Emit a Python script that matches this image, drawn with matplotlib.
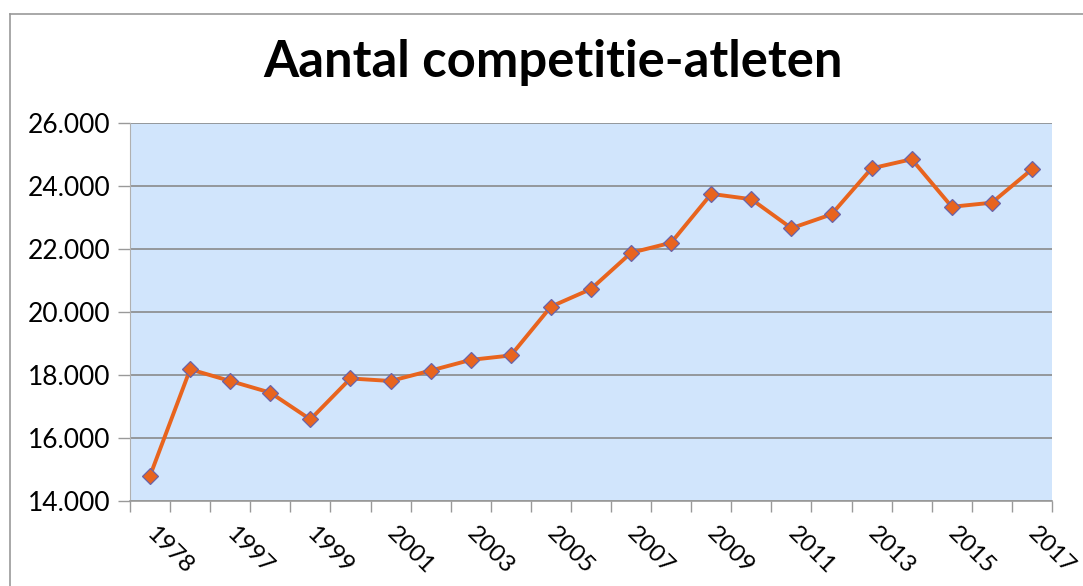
import matplotlib
matplotlib.use("Agg")
import matplotlib.pyplot as plt
import matplotlib.transforms as mtransforms
from matplotlib.lines import Line2D
from matplotlib.ticker import FuncFormatter

plt.rcParams["font.family"] = ["Lato", "DejaVu Sans"]

# data
years = ["1978", "1996", "1997", "1998", "1999", "2000", "2001", "2002", "2003",
         "2004", "2005", "2006", "2007", "2008", "2009", "2010", "2011", "2012",
         "2013", "2014", "2015", "2016", "2017"]
athletes = [14800, 18180, 17810, 17440, 16590, 17890, 17810, 18140, 18480,
            18620, 20170, 20730, 21880, 22200, 23750, 23580, 22660, 23100,
            24560, 24850, 23340, 23470, 24530]
y_ticks = [14000, 16000, 18000, 20000, 22000, 24000, 26000]

fig = plt.figure(figsize=(10.83, 5.86), dpi=100)
ax = fig.add_axes([130 / 1083, 85 / 586, 922 / 1083, 378 / 586])
ax.set_facecolor("#D1E5FC")

x = list(range(len(years)))
ax.plot(x, athletes, color="#E8641E", lw=2.8, marker="D", ms=8,
        markerfacecolor="#E8641E", markeredgecolor="#6A63A8", markeredgewidth=0.9,
        zorder=3)

ax.set_xlim(-0.5, len(years) - 0.5)
ax.set_ylim(y_ticks[0], y_ticks[-1])
ax.set_yticks(y_ticks)
ax.yaxis.set_major_formatter(FuncFormatter(lambda v, p: f"{int(v):,}".replace(",", ".")))
ax.grid(axis="y", color="#8A8A8A", lw=1.2)
ax.set_axisbelow(True)

# category labels every other year, tick marks between categories
ax.set_xticks(x[::2])
ax.set_xticklabels(years[::2], rotation=-45, ha="left", va="top", rotation_mode="anchor")
ax.set_xticks([i - 0.5 for i in range(len(years) + 1)], minor=True)
ax.tick_params(axis="x", which="major", length=0, pad=16, labelsize=17.5)
ax.tick_params(axis="x", which="minor", length=8, color="#999999", width=1)
ax.tick_params(axis="y", length=9, color="#999999", width=1, labelsize=19, pad=5)
shift = mtransforms.ScaledTranslation(7 / 100, 0, fig.dpi_scale_trans)
for lbl in ax.get_xticklabels():
    lbl.set_transform(lbl.get_transform() + shift)

for s in ["top", "right"]:
    ax.spines[s].set_visible(False)
ax.spines["left"].set_color("#B0B0B0")
ax.spines["bottom"].set_color("#999999")
ax.spines["bottom"].set_linewidth(1.2)

fig.text(553 / 1083, 1 - 62 / 586, "Aantal competitie-atleten", ha="center", va="center",
         fontsize=36.5, fontweight="bold")

# outer chart border (top and left only visible)
fig.add_artist(Line2D([10 / 1083, 1], [1 - 14 / 586, 1 - 14 / 586], color="#999999", lw=1.2))
fig.add_artist(Line2D([10 / 1083, 10 / 1083], [0, 1 - 14 / 586], color="#999999", lw=1.2))

fig.savefig("out.png", dpi=100)
